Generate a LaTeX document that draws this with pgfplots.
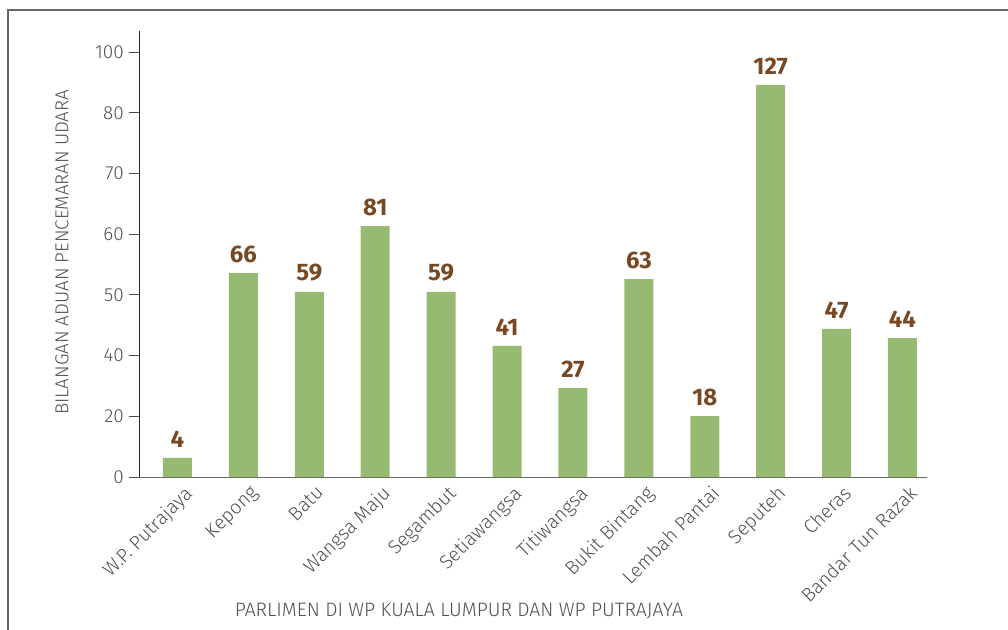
\documentclass[border=0pt]{standalone}
\usepackage{fontspec}
\setmainfont{Fira Sans}[UprightFont={* Light},BoldFont={* Bold}]
\usepackage{pgfplots}
\usepackage{pgfplotstable}
\pgfplotsset{compat=1.18}
\definecolor{barg}{RGB}{151,186,114}
\definecolor{lblb}{RGB}{120,72,34}
\definecolor{txtg}{RGB}{80,80,80}
\pgfplotstableread{
x h v
0 6.3 4
1 67.2 66
2 61.0 59
3 82.7 81
4 61.0 59
5 43.2 41
6 29.3 27
7 65.2 63
8 20.1 18
9 129.2 127
10 48.8 47
11 45.8 44
}\data
\begin{document}
\begin{tikzpicture}
\useasboundingbox (0,0) rectangle (1008bp,630bp);
\draw[color=black!60,line width=1.5bp] (8bp,-10bp) -- (8bp,620bp) -- (1020bp,620bp);
\begin{axis}[
  at={(139bp,153bp)}, anchor=south west,
  scale only axis, width=788bp, height=446bp,
  ybar, bar width=29bp,
  xmin=-0.584, xmax=11.372, ymin=0, ymax=147,
  axis x line*=bottom, axis y line*=left,
  x axis line style={color=black!60,line width=1bp},
  y axis line style={color=black!85,line width=1bp},
  xtick=data, xtick style={draw=none},
  xticklabels={W.P. Putrajaya,Kepong,Batu,Wangsa Maju,Segambut,Setiawangsa,Titiwangsa,Bukit Bintang,Lembah Pantai,Seputeh,Cheras,Bandar Tun Razak},
  xticklabel style={rotate=45,anchor=north east,font=\fontsize{19.5}{19.5}\selectfont,text=txtg,inner sep=2bp,xshift=8bp},
  ytick={0,20,40,60,80,100,120,140},
  yticklabels={0,20,40,50,60,70,80,100},
  ytick style={color=black!70,line width=1bp},
  tick align=outside, major tick length=10bp,
  yticklabel style={font=\fontsize{19}{19}\selectfont,text=txtg,inner sep=5bp},
  /pgf/number format/assume math mode=true,
  nodes near coords, point meta=explicit symbolic,
  nodes near coords style={font=\bfseries\fontsize{24}{24}\selectfont,text=lblb,anchor=south,yshift=7bp},
  clip=false,
]
\addplot[fill=barg,draw=none] table[x=x,y=h,meta=v]{\data};
\node[rotate=90,font=\fontsize{18.8}{18.8}\selectfont,text=txtg] at (axis description cs:-0.0977,0.504) {BILANGAN ADUAN PENCEMARAN UDARA};
\node[font=\fontsize{19.5}{19.5}\selectfont,text=txtg] at (axis description cs:0.406,-0.30) {PARLIMEN DI WP KUALA LUMPUR DAN WP PUTRAJAYA};
\end{axis}
\end{tikzpicture}
\end{document}
